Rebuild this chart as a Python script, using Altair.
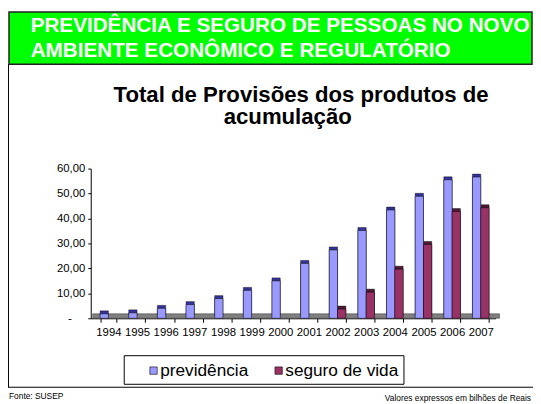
import altair as alt
import pandas as pd

years = [str(y) for y in range(1994, 2008)]
previdencia = [1.8, 2.2, 4.0, 5.5, 7.9, 11.2, 15.0, 22.0, 27.4, 35.2, 43.4, 48.9, 55.5, 56.6]
seguro_vida = [0, 0, 0, 0, 0, 0, 0, 0, 3.7, 10.5, 19.7, 29.6, 42.8, 44.3]
series_names = ["previdência", "seguro de vida"]
front_colors = ["#9999FF", "#993366"]
side_colors = ["#333399", "#4D1A33"]

header_lines = ["PREVIDÊNCIA E SEGURO DE PESSOAS NO NOVO", "AMBIENTE ECONÔMICO E REGULATÓRIO"]
title_lines = ["Total de Provisões dos produtos de", "acumulação"]
source_text = "Fonte: SUSEP"
units_text = "Valores expressos em bilhões de Reais"
y_ticks = [0, 10, 20, 30, 40, 50, 60]

rows = []
for i, y in enumerate(years):
    rows.append({"ano": y, "serie": series_names[0], "valor": previdencia[i]})
    if seguro_vida[i] > 0:
        rows.append({"ano": y, "serie": series_names[1], "valor": seguro_vida[i]})
df = pd.DataFrame(rows)

FONT = "Liberation Sans"
W, H = 411, 152

x_enc = alt.X("ano:N", sort=years,
              scale=alt.Scale(paddingInner=0.42, paddingOuter=0.277, align=0.59),
              axis=alt.Axis(title=None, labelAngle=0, tickBand="extent", tickSize=4,
                            labelPadding=4, labelFontSize=11.5, labelFont=FONT,
                            labelColor="black", domainColor="black", tickColor="black",
                            labelOverlap=False))
y_scale = alt.Scale(domain=[0, 60], nice=False)
y_axis = alt.Axis(title=None, values=y_ticks, grid=False,
                  tickSize=3, labelPadding=3, labelFontSize=11.5, labelFont=FONT,
                  labelColor="black", domainColor="black", tickColor="black",
                  labelOverlap=False,
                  labelExpr="datum.value == 0 ? '' : replace(format(datum.value, '.2f'), '.', ',')")
y_enc = alt.Y("valor:Q", scale=y_scale, axis=y_axis)
xoff = alt.XOffset("serie:N", sort=series_names, scale=alt.Scale(paddingInner=0, paddingOuter=0))

one = pd.DataFrame({"k": [0]})

floor = alt.Chart(one).mark_rect(color="#808080", stroke="#333333", strokeWidth=0.5).encode(
    x=alt.value(2), x2=alt.value(W + 4),
    y=alt.Y(datum=0, type="quantitative", scale=y_scale, axis=y_axis), y2=alt.Y2(datum=1.8))

side = alt.Chart(df).mark_bar(xOffset=3, yOffset=-3, stroke="black", strokeWidth=0.4).encode(
    x=x_enc, xOffset=xoff, y=y_enc,
    color=alt.Color("serie:N", sort=series_names,
                    scale=alt.Scale(domain=series_names, range=side_colors), legend=None))

front = alt.Chart(df).mark_bar(stroke="black", strokeWidth=0.5).encode(
    x=x_enc, xOffset=xoff, y=y_enc,
    fill=alt.Fill("serie:N", sort=series_names,
                  scale=alt.Scale(domain=series_names, range=front_colors),
                  legend=alt.Legend(title=None, orient="none", legendX=55, legendY=196,
                                    direction="horizontal", symbolType="square", symbolSize=56,
                                    symbolStrokeColor="black", symbolStrokeWidth=0.6,
                                    labelFontSize=17.5, labelFont=FONT, labelColor="black",
                                    labelOffset={"expr": "-2"}, columnPadding=22, padding=0)))

zero_lbl = alt.Chart(one).mark_text(text="-", fontSize=12, font=FONT, color="black",
                                    align="center", baseline="middle").encode(
    x=alt.value(-21), y=alt.Y(datum=0, type="quantitative", scale=y_scale, axis=y_axis))

header_box = alt.Chart(one).mark_rect(fill="#00FF00", stroke="#222222", strokeWidth=1.5).encode(
    x=alt.value(-83), x2=alt.value(448), y=alt.value(-159), y2=alt.value(-106))

frame_v = alt.Chart(one).mark_rule(color="black", strokeWidth=1).encode(
    x=alt.value(-83.5), y=alt.value(-106), y2=alt.value(222))
frame_h = alt.Chart(one).mark_rule(color="black", strokeWidth=1).encode(
    x=alt.value(-84), x2=alt.value(460), y=alt.value(222))

legend_box = alt.Chart(one).mark_rect(fill="white", stroke="black", strokeWidth=1).encode(
    x=alt.value(34), x2=alt.value(318), y=alt.value(190), y2=alt.value(219))

def txt(s, x, y, size, bold=False, align="left", color="black"):
    return alt.Chart(one).mark_text(text=s, fontSize=size, font=FONT,
                                    fontWeight="bold" if bold else "normal",
                                    color=color, align=align, baseline="alphabetic").encode(
        x=alt.value(x), y=alt.value(y))

texts = [
    txt(header_lines[0], -61, -139, 21, True, "left", "white"),
    txt(header_lines[1], -61, -113, 21, True, "left", "white"),
    txt(title_lines[0], 213.5, -68, 22.5, True, "center"),
    txt(title_lines[1], 200, -45, 22.5, True, "center"),
    txt(source_text, -83, 234, 8.5),
    txt(units_text, 447, 235.5, 8.5, False, "right"),
]

chart = alt.layer(header_box, frame_v, frame_h, legend_box, floor, side, front, zero_lbl, *texts).properties(
    width=W, height=H,
    autosize=alt.AutoSizeParams(type="none"),
    padding={"left": 84, "top": 160, "right": 38, "bottom": 84},
).resolve_scale(color="independent").configure_view(strokeWidth=0)

chart.save("out.html", embed_options={"renderer": "svg", "actions": False})
